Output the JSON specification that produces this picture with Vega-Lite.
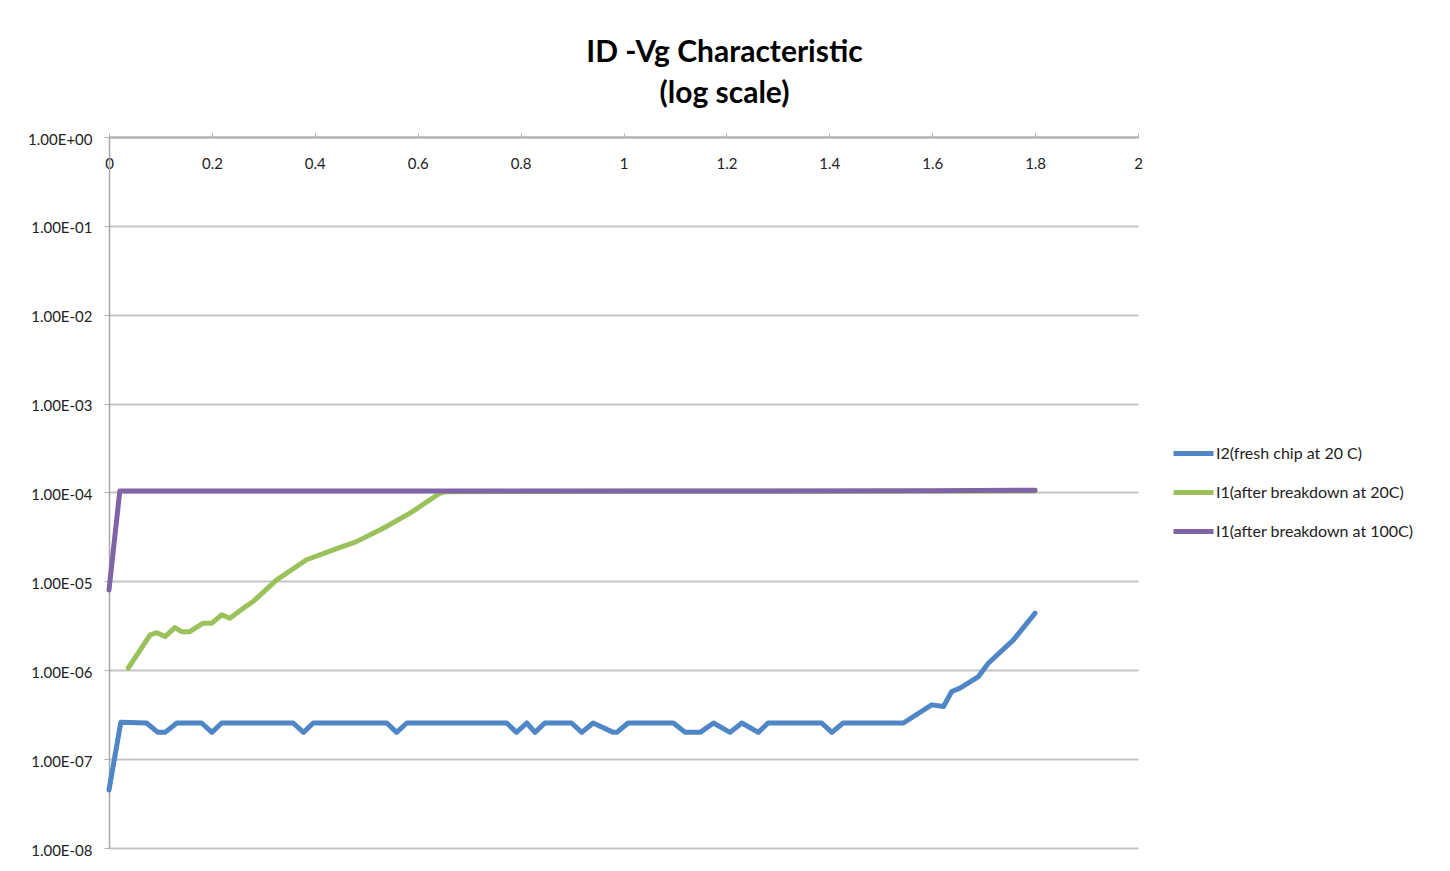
{
  "$schema": "https://vega.github.io/schema/vega-lite/v6.json",
  "width": 1029,
  "height": 711,
  "autosize": {"type": "none"},
  "padding": {"left": 109, "top": 137, "right": 312, "bottom": 23},
  "background": "white",
  "title": {
    "text": ["ID -Vg Characteristic", "(log scale)"],
    "font": "Lato",
    "fontSize": 30,
    "fontWeight": "bold",
    "color": "#000000",
    "anchor": "middle",
    "frame": "group",
    "dx": 101,
    "lineHeight": 41,
    "offset": 23
  },
  "config": {
    "view": {"stroke": null},
    "font": "Lato"
  },
  "data": {
    "values": [
      {"series": "I2(fresh chip at 20 C)", "v": 0, "i": 4.5e-8},
      {"series": "I2(fresh chip at 20 C)", "v": 0.023, "i": 2.6e-7},
      {"series": "I2(fresh chip at 20 C)", "v": 0.073, "i": 2.55e-7},
      {"series": "I2(fresh chip at 20 C)", "v": 0.095, "i": 2.0e-7},
      {"series": "I2(fresh chip at 20 C)", "v": 0.109, "i": 2.0e-7},
      {"series": "I2(fresh chip at 20 C)", "v": 0.132, "i": 2.55e-7},
      {"series": "I2(fresh chip at 20 C)", "v": 0.18, "i": 2.55e-7},
      {"series": "I2(fresh chip at 20 C)", "v": 0.2, "i": 2.0e-7},
      {"series": "I2(fresh chip at 20 C)", "v": 0.219, "i": 2.55e-7},
      {"series": "I2(fresh chip at 20 C)", "v": 0.358, "i": 2.55e-7},
      {"series": "I2(fresh chip at 20 C)", "v": 0.378, "i": 2.0e-7},
      {"series": "I2(fresh chip at 20 C)", "v": 0.397, "i": 2.55e-7},
      {"series": "I2(fresh chip at 20 C)", "v": 0.54, "i": 2.55e-7},
      {"series": "I2(fresh chip at 20 C)", "v": 0.559, "i": 2.0e-7},
      {"series": "I2(fresh chip at 20 C)", "v": 0.579, "i": 2.55e-7},
      {"series": "I2(fresh chip at 20 C)", "v": 0.773, "i": 2.55e-7},
      {"series": "I2(fresh chip at 20 C)", "v": 0.792, "i": 2.0e-7},
      {"series": "I2(fresh chip at 20 C)", "v": 0.812, "i": 2.55e-7},
      {"series": "I2(fresh chip at 20 C)", "v": 0.828, "i": 2.0e-7},
      {"series": "I2(fresh chip at 20 C)", "v": 0.847, "i": 2.55e-7},
      {"series": "I2(fresh chip at 20 C)", "v": 0.899, "i": 2.55e-7},
      {"series": "I2(fresh chip at 20 C)", "v": 0.919, "i": 2.0e-7},
      {"series": "I2(fresh chip at 20 C)", "v": 0.941, "i": 2.55e-7},
      {"series": "I2(fresh chip at 20 C)", "v": 0.98, "i": 2.0e-7},
      {"series": "I2(fresh chip at 20 C)", "v": 0.987, "i": 2.0e-7},
      {"series": "I2(fresh chip at 20 C)", "v": 1.009, "i": 2.55e-7},
      {"series": "I2(fresh chip at 20 C)", "v": 1.097, "i": 2.55e-7},
      {"series": "I2(fresh chip at 20 C)", "v": 1.12, "i": 2.0e-7},
      {"series": "I2(fresh chip at 20 C)", "v": 1.149, "i": 2.0e-7},
      {"series": "I2(fresh chip at 20 C)", "v": 1.175, "i": 2.55e-7},
      {"series": "I2(fresh chip at 20 C)", "v": 1.207, "i": 2.0e-7},
      {"series": "I2(fresh chip at 20 C)", "v": 1.23, "i": 2.55e-7},
      {"series": "I2(fresh chip at 20 C)", "v": 1.262, "i": 2.0e-7},
      {"series": "I2(fresh chip at 20 C)", "v": 1.281, "i": 2.55e-7},
      {"series": "I2(fresh chip at 20 C)", "v": 1.385, "i": 2.55e-7},
      {"series": "I2(fresh chip at 20 C)", "v": 1.405, "i": 2.0e-7},
      {"series": "I2(fresh chip at 20 C)", "v": 1.427, "i": 2.55e-7},
      {"series": "I2(fresh chip at 20 C)", "v": 1.544, "i": 2.55e-7},
      {"series": "I2(fresh chip at 20 C)", "v": 1.599, "i": 4.08e-7},
      {"series": "I2(fresh chip at 20 C)", "v": 1.622, "i": 3.91e-7},
      {"series": "I2(fresh chip at 20 C)", "v": 1.638, "i": 5.76e-7},
      {"series": "I2(fresh chip at 20 C)", "v": 1.654, "i": 6.29e-7},
      {"series": "I2(fresh chip at 20 C)", "v": 1.69, "i": 8.5e-7},
      {"series": "I2(fresh chip at 20 C)", "v": 1.709, "i": 1.2e-6},
      {"series": "I2(fresh chip at 20 C)", "v": 1.758, "i": 2.2e-6},
      {"series": "I2(fresh chip at 20 C)", "v": 1.8, "i": 4.39e-6},
      {"series": "I1(after breakdown at 20C)", "v": 0.0375, "i": 1.06e-6},
      {"series": "I1(after breakdown at 20C)", "v": 0.08, "i": 2.5e-6},
      {"series": "I1(after breakdown at 20C)", "v": 0.093, "i": 2.65e-6},
      {"series": "I1(after breakdown at 20C)", "v": 0.109, "i": 2.39e-6},
      {"series": "I1(after breakdown at 20C)", "v": 0.128, "i": 3.02e-6},
      {"series": "I1(after breakdown at 20C)", "v": 0.141, "i": 2.72e-6},
      {"series": "I1(after breakdown at 20C)", "v": 0.157, "i": 2.72e-6},
      {"series": "I1(after breakdown at 20C)", "v": 0.183, "i": 3.39e-6},
      {"series": "I1(after breakdown at 20C)", "v": 0.2, "i": 3.39e-6},
      {"series": "I1(after breakdown at 20C)", "v": 0.219, "i": 4.2e-6},
      {"series": "I1(after breakdown at 20C)", "v": 0.235, "i": 3.85e-6},
      {"series": "I1(after breakdown at 20C)", "v": 0.261, "i": 5.0e-6},
      {"series": "I1(after breakdown at 20C)", "v": 0.28, "i": 5.93e-6},
      {"series": "I1(after breakdown at 20C)", "v": 0.326, "i": 1.04e-5},
      {"series": "I1(after breakdown at 20C)", "v": 0.384, "i": 1.75e-5},
      {"series": "I1(after breakdown at 20C)", "v": 0.436, "i": 2.26e-5},
      {"series": "I1(after breakdown at 20C)", "v": 0.481, "i": 2.8e-5},
      {"series": "I1(after breakdown at 20C)", "v": 0.533, "i": 3.96e-5},
      {"series": "I1(after breakdown at 20C)", "v": 0.585, "i": 5.85e-5},
      {"series": "I1(after breakdown at 20C)", "v": 0.643, "i": 9.8e-5},
      {"series": "I1(after breakdown at 20C)", "v": 0.653, "i": 1.02e-4},
      {"series": "I1(after breakdown at 20C)", "v": 1.0, "i": 1.03e-4},
      {"series": "I1(after breakdown at 20C)", "v": 1.4, "i": 1.03e-4},
      {"series": "I1(after breakdown at 20C)", "v": 1.8, "i": 1.04e-4},
      {"series": "I1(after breakdown at 100C)", "v": 0, "i": 8.0e-6},
      {"series": "I1(after breakdown at 100C)", "v": 0.021, "i": 1.04e-4},
      {"series": "I1(after breakdown at 100C)", "v": 0.4, "i": 1.04e-4},
      {"series": "I1(after breakdown at 100C)", "v": 0.8, "i": 1.04e-4},
      {"series": "I1(after breakdown at 100C)", "v": 1.2, "i": 1.04e-4},
      {"series": "I1(after breakdown at 100C)", "v": 1.6, "i": 1.045e-4},
      {"series": "I1(after breakdown at 100C)", "v": 1.8, "i": 1.06e-4}
    ]
  },
  "mark": {"type": "line", "strokeWidth": 5, "strokeCap": "round", "strokeJoin": "round"},
  "encoding": {
    "x": {
      "field": "v",
      "type": "quantitative",
      "scale": {"domain": [0, 2], "nice": false, "zero": false},
      "axis": {
        "title": null,
        "orient": "top",
        "values": [0, 0.2, 0.4, 0.6, 0.8, 1, 1.2, 1.4, 1.6, 1.8, 2],
        "format": "~g",
        "grid": false,
        "domainColor": "#b0b0b0",
        "domainWidth": 2,
        "tickColor": "#b0b0b0",
        "tickSize": 4,
        "tickWidth": 1,
        "labelFont": "Lato",
        "labelFontSize": 15,
        "labelColor": "#222222",
        "labelBaseline": "middle",
        "labelPadding": -30,
        "labelFlush": false,
        "labelOverlap": false
      }
    },
    "y": {
      "field": "i",
      "type": "quantitative",
      "scale": {"type": "log", "domain": [1e-8, 1], "nice": false},
      "axis": {
        "title": null,
        "values": [1e-8, 1e-7, 1e-6, 1e-5, 1e-4, 1e-3, 1e-2, 1e-1, 1],
        "labelExpr": "datum.value >= 1 ? '1.00E+00' : '1.00E-' + (round(-log(datum.value)/LN10) < 10 ? '0' : '') + round(-log(datum.value)/LN10)",
        "grid": true,
        "gridColor": "#c4c4c4",
        "gridWidth": 2,
        "domainColor": "#a8a8a8",
        "domainWidth": 1.5,
        "tickColor": "#b0b0b0",
        "tickSize": 5,
        "labelFont": "Lato",
        "labelFontSize": 15,
        "labelColor": "#222222",
        "labelPadding": 12,
        "labelOffset": 2,
        "labelOverlap": false
      }
    },
    "color": {
      "field": "series",
      "type": "nominal",
      "sort": ["I2(fresh chip at 20 C)", "I1(after breakdown at 20C)", "I1(after breakdown at 100C)"],
      "scale": {
        "domain": ["I2(fresh chip at 20 C)", "I1(after breakdown at 20C)", "I1(after breakdown at 100C)"],
        "range": ["#4f86c6", "#9bc25a", "#8064a8"]
      },
      "legend": {
        "title": null,
        "orient": "none",
        "legendX": 1062,
        "legendY": 294,
        "symbolType": "stroke",
        "symbolSize": 1600,
        "symbolStrokeWidth": 5,
        "labelFont": "Lato",
        "labelFontSize": 16,
        "labelColor": "#222222",
        "labelOffset": 0,
        "rowPadding": 6,
        "labelLimit": 300
      }
    }
  }
}
